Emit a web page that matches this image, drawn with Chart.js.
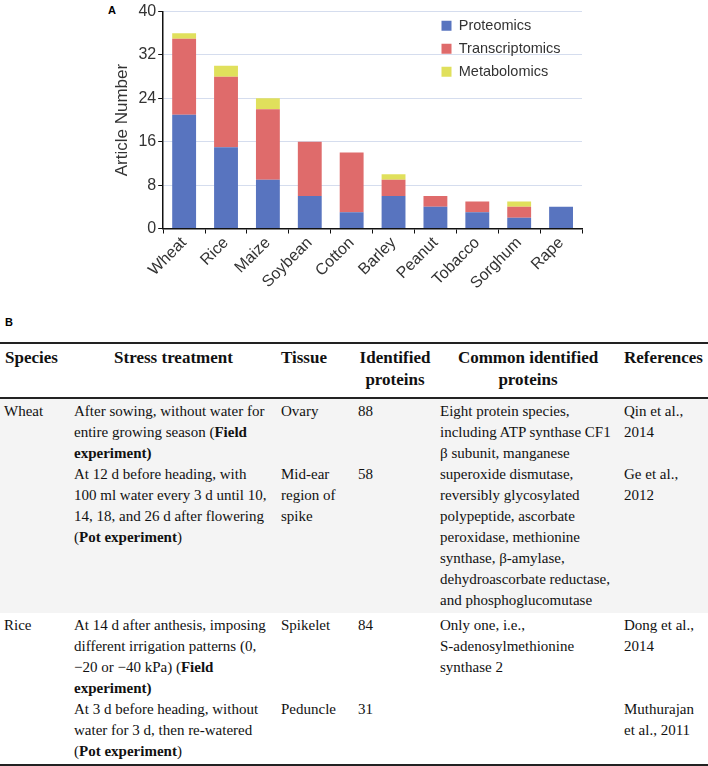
<!DOCTYPE html>
<html>
<head>
<meta charset="utf-8">
<script src="https://cdn.jsdelivr.net/npm/chart.js@4.4.0/dist/chart.umd.min.js"></script>
<style>
  body { margin: 0; width: 708px; height: 766px; background: #fff; position: relative; overflow: hidden; }
  #wrap { position: absolute; left: 0; top: 0; width: 708px; height: 299px; }
  .panel { position: absolute; font: bold 11px "Liberation Sans", Arial, sans-serif; color: #000; }
  table { position: absolute; left: 0; top: 342px; width: 708px; border-collapse: collapse; table-layout: fixed;
          font: 15px/21px "Liberation Serif", "Times New Roman", serif; color: #111; }
  th { font: bold 17px/22px "Liberation Serif", "Times New Roman", serif; text-align: center; vertical-align: top;
       padding: 3px 4px 6px; white-space: nowrap; border-top: 2px solid #222; border-bottom: 2px solid #222; }
  th.l { text-align: left; }
  td { vertical-align: top; padding: 0 4px; white-space: nowrap; text-align: left; }
  tr.first td { padding-top: 2px; }
  tr.end td { padding-bottom: 2px; }
  td.span { padding-top: 2px; padding-bottom: 2px; }
  tr.grey td { background: #f4f4f4; }
  tr.last td, td.bot { border-bottom: 2px solid #222; }
</style>
</head>
<body>
<div class="panel" style="left:108px;top:4px">A</div>
<div id="wrap"><canvas id="crops" width="708" height="299"></canvas></div>

<div class="panel" style="left:5px;top:316px">B</div>
<table>
  <colgroup>
    <col style="width:70px"><col style="width:207px"><col style="width:77px">
    <col style="width:82px"><col style="width:184px"><col style="width:88px">
  </colgroup>
  <tr>
    <th class="l" style="padding-left:5px">Species</th><th>Stress treatment</th><th class="l">Tissue</th>
    <th>Identified<br>proteins</th><th>Common identified<br>proteins</th><th class="l">References</th>
  </tr>
  <tr class="grey first" style="height:65px">
    <td rowspan="2" class="span">Wheat</td>
    <td>After sowing, without water for<br>entire growing season (<b>Field<br>experiment)</b></td>
    <td>Ovary</td><td>88</td>
    <td rowspan="2" class="span">Eight protein species,<br>including ATP synthase CF1<br>β subunit, manganese<br>superoxide dismutase,<br>reversibly glycosylated<br>polypeptide, ascorbate<br>peroxidase, methionine<br>synthase, β-amylase,<br>dehydroascorbate reductase,<br>and phosphoglucomutase</td>
    <td>Qin et al.,<br>2014</td>
  </tr>
  <tr class="grey end" style="height:149px">
    <td>At 12 d before heading, with<br>100 ml water every 3 d until 10,<br>14, 18, and 26 d after flowering<br>(<b>Pot experiment</b>)</td>
    <td>Mid-ear<br>region of<br>spike</td><td>58</td>
    <td>Ge et al.,<br>2012</td>
  </tr>
  <tr class="first" style="height:86px">
    <td rowspan="2" class="span bot">Rice</td>
    <td>At 14 d after anthesis, imposing<br>different irrigation patterns (0,<br>−20 or −40 kPa) (<b>Field<br>experiment)</b></td>
    <td>Spikelet</td><td>84</td>
    <td rowspan="2" class="span bot">Only one, i.e.,<br>S-adenosylmethionine<br>synthase 2</td>
    <td>Dong et al.,<br>2014</td>
  </tr>
  <tr class="last end">
    <td>At 3 d before heading, without<br>water for 3 d, then re-watered<br>(<b>Pot experiment</b>)</td>
    <td>Peduncle</td><td>31</td>
    <td>Muthurajan<br>et al., 2011</td>
  </tr>
</table>

<script>
// data
const crops = ['Wheat', 'Rice', 'Maize', 'Soybean', 'Cotton', 'Barley', 'Peanut', 'Tobacco', 'Sorghum', 'Rape'];
const proteomics = [21, 15, 9, 6, 3, 6, 4, 3, 2, 4];
const transcriptomics = [14, 13, 13, 10, 11, 3, 2, 2, 2, 0];
const metabolomics = [1, 2, 2, 0, 0, 1, 0, 0, 1, 0];
const yTicks = [0, 8, 16, 24, 32, 40];

const sans = "'Liberation Sans', Arial, sans-serif";

// put the legend in the upper right corner of the plot
const legendSpot = {
  id: 'legendSpot',
  afterLayout(chart) {
    const lg = chart.legend;
    const w = lg.width, h = lg.height;
    lg.left = 433; lg.right = 433 + w;
    lg.top = 10; lg.bottom = 10 + h;
  }
};

new Chart(document.getElementById('crops'), {
  type: 'bar',
  data: {
    labels: crops,
    datasets: [
      { label: 'Proteomics', data: proteomics, backgroundColor: '#5874bf' },
      { label: 'Transcriptomics', data: transcriptomics, backgroundColor: '#df6b6b' },
      { label: 'Metabolomics', data: metabolomics, backgroundColor: '#e0e05c' }
    ]
  },
  options: {
    responsive: false,
    animation: false,
    barPercentage: 0.57,
    categoryPercentage: 1,
    layout: { padding: { left: 108, right: 126, top: 2, bottom: 6 } },
    plugins: {
      legend: {
        position: 'chartArea',
        align: 'start',
        labels: {
          boxWidth: 10,
          boxHeight: 10,
          padding: 8.5,
          color: '#333',
          font: { family: sans, size: 14.5 }
        }
      },
      tooltip: { enabled: false }
    },
    scales: {
      x: {
        stacked: true,
        ticks: {
          minRotation: 45,
          maxRotation: 45,
          padding: 0,
          color: '#333',
          font: { family: sans, size: 16 }
        },
        grid: { drawOnChartArea: false, tickColor: '#111', tickLength: 5 },
        border: { color: '#111', width: 1.5 }
      },
      y: {
        stacked: true,
        min: 0,
        max: 40,
        afterBuildTicks: scale => { scale.ticks = yTicks.map(v => ({ value: v })); },
        ticks: {
          padding: 2,
          color: '#333',
          font: { family: sans, size: 16 }
        },
        grid: { color: '#d5ddee', tickColor: '#111', tickLength: 5 },
        border: { color: '#111', width: 1.5 },
        title: {
          display: true,
          text: 'Article Number',
          color: '#333',
          font: { family: sans, size: 17 },
          padding: { top: 4, bottom: 4 }
        }
      }
    }
  },
  plugins: [legendSpot]
});
</script>
</body>
</html>
